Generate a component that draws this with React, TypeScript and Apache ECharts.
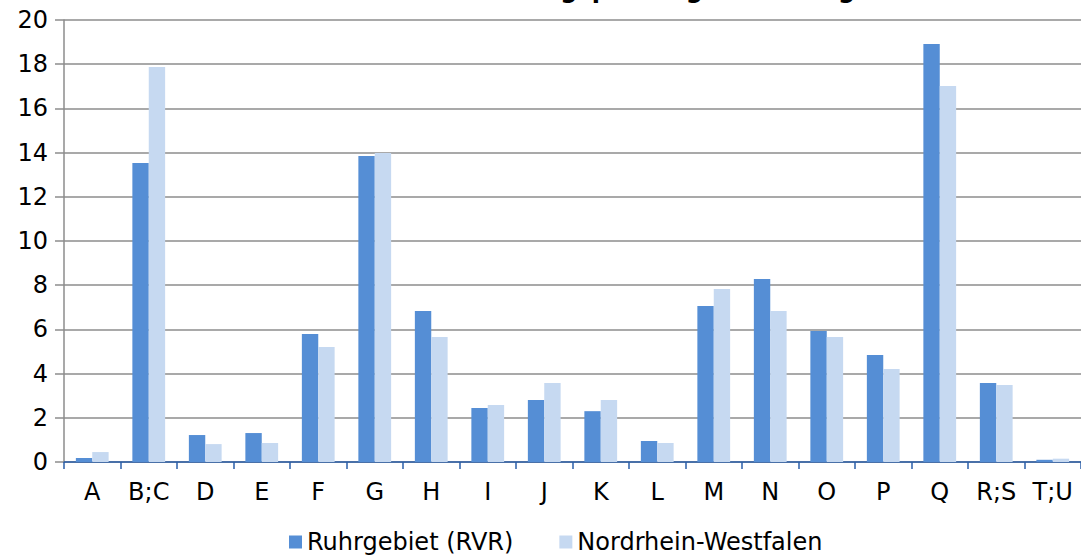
import React, { useEffect, useRef } from "react";
import * as echarts from "echarts";

const categories = ["A", "B;C", "D", "E", "F", "G", "H", "I", "J", "K", "L", "M", "N", "O", "P", "Q", "R;S", "T;U"];
const ruhr = [0.18, 13.53, 1.22, 1.31, 5.79, 13.85, 6.83, 2.44, 2.8, 2.3, 0.95, 7.06, 8.28, 5.93, 4.84, 18.91, 3.57, 0.1];
const nrw = [0.45, 17.87, 0.81, 0.86, 5.2, 13.98, 5.66, 2.58, 3.57, 2.8, 0.86, 7.83, 6.83, 5.66, 4.21, 17.01, 3.48, 0.15];
const seriesNames = ["Ruhrgebiet (RVR)", "Nordrhein-Westfalen"];
const titleText = "Anteil der sozialversicherungspflichtig Beschäftigten";

const FONT = "'DejaVu Sans', 'Noto Sans', sans-serif";

export default function App() {
  const ref = useRef<HTMLDivElement>(null);
  useEffect(() => {
    if (!ref.current) return;
    const chart = echarts.init(ref.current, null, { renderer: "svg" });
    chart.setOption({
      animation: false,
      backgroundColor: "#ffffff",
      textStyle: { fontFamily: FONT },
      graphic: [
        {
          type: "text",
          left: "center",
          top: -22,
          style: { text: titleText, font: `bold 24px ${FONT}`, fill: "#000" },
        },
      ],
      legend: {
        left: 284,
        top: 525,
        itemWidth: 13,
        itemHeight: 13,
        itemGap: 46,
        icon: "rect",
        textStyle: { fontSize: 24, color: "#000", fontFamily: FONT },
        data: seriesNames,
      },
      grid: { left: 64, top: 20, width: 1024, height: 442, containLabel: false },
      xAxis: {
        type: "category",
        data: categories,
        axisLine: { lineStyle: { color: "#2a5ea8", width: 1.5 } },
        axisTick: { show: true, length: 7, lineStyle: { color: "#2a5ea8", width: 1.5 } },
        axisLabel: { fontSize: 24, color: "#000", margin: 18, fontFamily: FONT },
      },
      yAxis: {
        type: "value",
        min: 0,
        max: 20,
        interval: 2,
        axisLine: { show: true, lineStyle: { color: "#8c8c8c", width: 1.5 } },
        axisTick: { show: true, length: 9, lineStyle: { color: "#8c8c8c", width: 1.5 } },
        splitLine: { lineStyle: { color: "#8c8c8c", width: 1.5 } },
        axisLabel: { fontSize: 24, color: "#000", margin: 16, fontFamily: FONT },
      },
      series: [
        {
          name: seriesNames[0],
          type: "bar",
          data: ruhr,
          itemStyle: { color: "#558ed5" },
          barGap: "0%",
          barCategoryGap: "42%",
        },
        {
          name: seriesNames[1],
          type: "bar",
          data: nrw,
          itemStyle: { color: "#c6d9f1" },
          barGap: "0%",
          barCategoryGap: "42%",
        },
      ],
    });
    return () => chart.dispose();
  }, []);
  return (
    <div
      ref={ref}
      style={{ position: "fixed", left: 0, top: 0, width: 1081, height: 557 }}
    />
  );
}
